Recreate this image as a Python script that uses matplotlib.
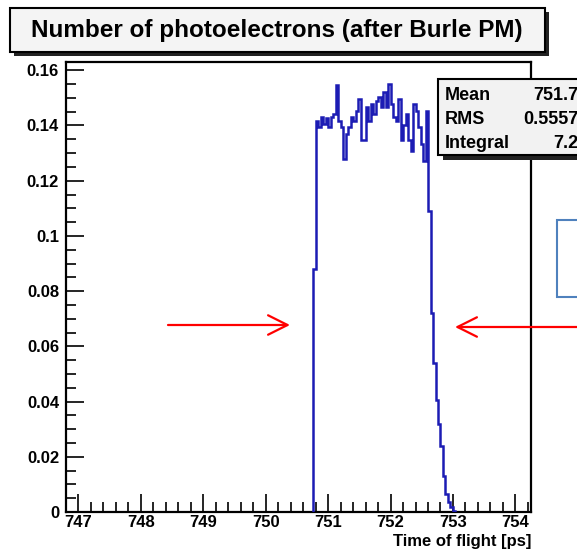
import numpy as np
import matplotlib.pyplot as plt
from matplotlib.patches import Rectangle
from matplotlib.ticker import MultipleLocator, AutoMinorLocator, FormatStrFormatter

plt.rcParams['font.family'] = ['Liberation Sans', 'DejaVu Sans']
plt.rcParams['font.weight'] = 'bold'
plt.rcParams['axes.labelweight'] = 'bold'

# data
title = 'Number of photoelectrons (after Burle PM)'
x_label = 'Time of flight [ps]'
first_edge = 750.76   # ps
bin_width = 0.04      # ps
rise = [0.088]
plateau = [0.1418, 0.1394, 0.1430, 0.1406, 0.1427, 0.1394, 0.1430, 0.1442, 0.1545,
           0.1418, 0.1394, 0.1279, 0.1370, 0.1394, 0.1430, 0.1418, 0.1454, 0.1496,
           0.1346, 0.1346, 0.1466, 0.1418, 0.1478, 0.1442, 0.1490, 0.1502, 0.1466,
           0.1520, 0.1466, 0.1551, 0.1478, 0.1430, 0.1418, 0.1496, 0.1346, 0.1400,
           0.1442, 0.1346, 0.1309, 0.1478, 0.1454, 0.1394, 0.1334, 0.1273, 0.1454]
fall = [0.109, 0.072, 0.054, 0.0405, 0.032, 0.024, 0.013, 0.0065, 0.0037, 0.0018, 0.0005]
stat_names = ['Mean', 'RMS', 'Integral']
stat_values = ['751.7', '0.5557', '7.2']
x_range = (746.8, 754.25)
y_range = (0, 0.163)

counts = rise + plateau + fall
edges = first_edge + bin_width * np.arange(len(counts) + 1)

W, H = 577, 559
fig = plt.figure(figsize=(W / 100, H / 100), dpi=100)
ax = fig.add_axes([66 / W, 1 - 512 / H, (531 - 66) / W, (512 - 62) / H])

ax.stairs(counts, edges, baseline=0, color='#1c1cb4', lw=1.8, zorder=3)

ax.set_xlim(*x_range)
ax.set_ylim(*y_range)
ax.xaxis.set_major_locator(MultipleLocator(1))
ax.xaxis.set_minor_locator(AutoMinorLocator(5))
ax.yaxis.set_major_locator(MultipleLocator(0.02))
ax.yaxis.set_minor_locator(AutoMinorLocator(4))
ax.yaxis.set_major_formatter(FormatStrFormatter('%g'))
ax.tick_params(which='both', direction='in', top=False, right=False,
               labelsize=12, width=1.2, color='black')
ax.tick_params(which='major', length=13)
ax.tick_params(which='minor', length=7)
ax.tick_params(axis='x', pad=2)
ax.tick_params(axis='y', pad=5)
for s in ax.spines.values():
    s.set_linewidth(1.6)
ax.set_xlabel(x_label, loc='right', fontsize=12, labelpad=3)

# overlay in pixel coordinates for boxes and arrows
ov = fig.add_axes([0, 0, 1, 1], zorder=5)
ov.set_xlim(0, W)
ov.set_ylim(H, 0)
ov.axis('off')
ov.patch.set_alpha(0)

# title box
ov.add_patch(Rectangle((14, 12), 535, 44, fc='#222222', ec='none'))
ov.add_patch(Rectangle((10, 8), 535, 44, fc='#f4f4f4', ec='black', lw=1.5))
ov.text(277, 31, title, ha='center', va='center', fontsize=17.5)

# stats box
ov.add_patch(Rectangle((443, 83), 160, 77, fc='#222222', ec='none'))
ov.add_patch(Rectangle((438, 79), 160, 76, fc='#f2f2f2', ec='black', lw=1.5))
for i, (n, v) in enumerate(zip(stat_names, stat_values)):
    y = 95 + i * 24.5
    ov.text(445, y, n, ha='left', va='center', fontsize=13)
    ov.text(578, y, v, ha='right', va='center', fontsize=13)

# blue box
ov.add_patch(Rectangle((557, 220), 40, 77, fc='white', ec='#4f81bd', lw=1.5))

# red arrows
style = '->,head_length=0.7,head_width=0.35'
ov.annotate('', xy=(290, 325), xytext=(168, 325), annotation_clip=False,
            arrowprops=dict(arrowstyle=style, color='red', lw=1.6,
                            mutation_scale=20, shrinkA=0, shrinkB=0))
ov.annotate('', xy=(455, 327), xytext=(600, 327), annotation_clip=False,
            arrowprops=dict(arrowstyle=style, color='red', lw=1.6,
                            mutation_scale=20, shrinkA=0, shrinkB=0))

plt.savefig('out.png', dpi=100)
